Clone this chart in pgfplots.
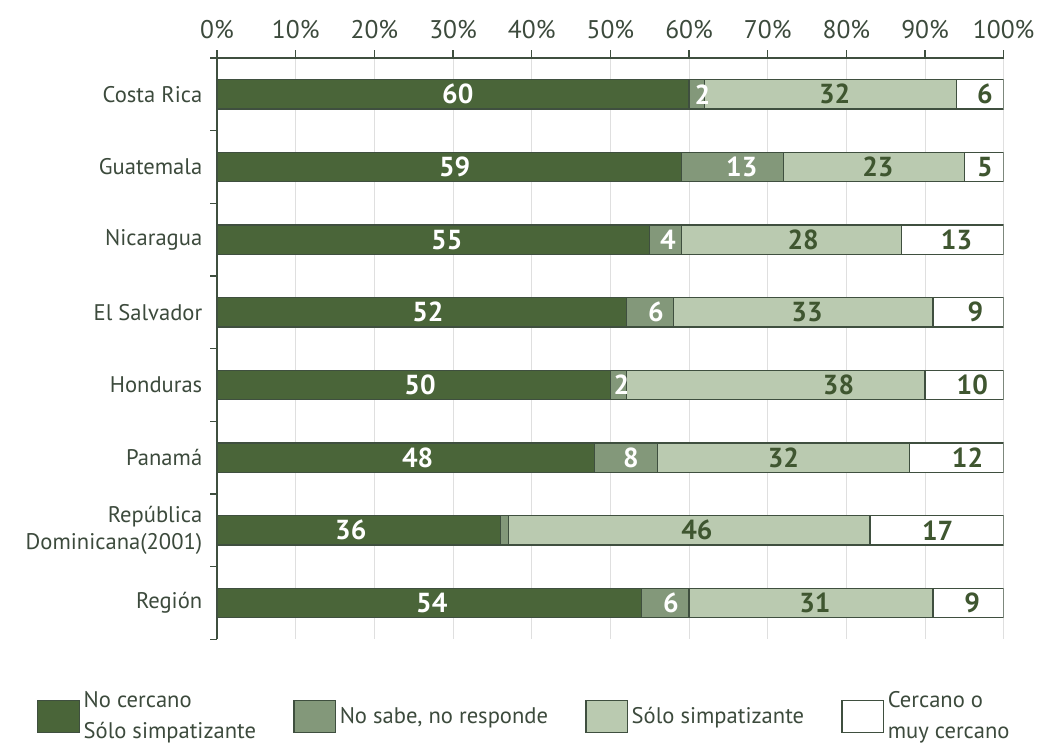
\documentclass[border=0pt]{standalone}
\usepackage{pgfplots}
\pgfplotsset{compat=1.18}
\usepackage{fontspec}
\setmainfont{PT Sans}
\definecolor{dk}{HTML}{4A6539}
\definecolor{md}{HTML}{83987A}
\definecolor{lt}{HTML}{BACAB0}
\definecolor{txt}{HTML}{3C4A3C}
\definecolor{ol}{HTML}{3F4F3F}
\begin{document}
\begin{tikzpicture}
\begin{axis}[name=ax, scale only axis, width=400.5pt, height=296pt,
  xbar stacked, bar width=15pt,
  xmin=0, xmax=100, ymin=-0.5, ymax=7.5, y dir=reverse,
  axis x line*=top, axis y line*=left,
  axis line style={ol, line width=0.8pt},
  xtick={0,10,...,100},
  xticklabel={\pgfmathprintnumber[assume math mode=true]{\tick}\%},
  xticklabel style={font=\fontsize{13}{15}\selectfont, text=txt, yshift=2pt},
  xmajorgrids, grid style={gray!25, line width=0.5pt},
  tick align=outside, major tick length=4pt, minor tick length=3.5pt,
  tick style={ol, line width=0.6pt},
  ytick={0,...,7},
  yticklabels={Costa Rica, Guatemala, Nicaragua, El Salvador, Honduras, Panamá, {República\\Dominicana(2001)}, Región},
  yticklabel style={align=right, font=\fontsize{11.5}{14}\selectfont, text=txt},
  every major y tick/.style={draw=none},
  minor ytick={-0.5,0.5,...,7.5},
  legend image code/.code={\draw[#1, draw=ol, line width=0.6pt] (0pt,-8pt) rectangle (21pt,8pt);},
  legend columns=4,
  legend style={at={(axis description cs:0.392,-0.075)}, anchor=north, draw=none, fill=none,
    font=\fontsize{11.5}{16}\selectfont, text=txt, cells={align=left},
    /tikz/every odd column/.append style={column sep=0pt},
    /tikz/every even column/.append style={column sep=17pt},
    /tikz/column 6/.append style={column sep=29pt}},
]
\addplot[fill=dk, draw=ol, line width=0.6pt] coordinates {(60,0) (59,1) (55,2) (52,3) (50,4) (48,5) (36,6) (54,7)};
\addplot[fill=md, draw=ol, line width=0.6pt] coordinates {(2,0) (13,1) (4,2) (6,3) (2,4) (8,5) (1,6) (6,7)};
\addplot[fill=lt, draw=ol, line width=0.6pt] coordinates {(32,0) (23,1) (28,2) (33,3) (38,4) (32,5) (46,6) (31,7)};
\addplot[fill=white, draw=ol, line width=0.6pt] coordinates {(6,0) (5,1) (13,2) (9,3) (10,4) (12,5) (17,6) (9,7)};
\legend{{No cercano\\Sólo simpatizante}, {No sabe, no responde}, {Sólo simpatizante}, {Cercano o\\muy cercano}}
\end{axis}
\begin{axis}[scale only axis, width=400.5pt, height=296pt,
  xmin=0, xmax=100, ymin=-0.5, ymax=7.5, y dir=reverse, hide axis, clip=false]
\addplot[draw=none, mark=none, nodes near coords, point meta=explicit symbolic,
  nodes near coords align={anchor=center},
  every node near coord/.append style={font=\bfseries\fontsize{14}{14}\selectfont, text=white}]
  table[meta=l] {
x y l
30.6 0 60
30.2 1 59
29.2 2 55
26.8 3 52
25.8 4 50
25.5 5 48
17.0 6 36
27.3 7 54
61.7 0 2
66.7 1 13
57.3 2 4
55.8 3 6
51.4 4 2
52.6 5 8
57.7 7 6
};
\addplot[draw=none, mark=none, nodes near coords, point meta=explicit symbolic,
  nodes near coords align={anchor=center},
  every node near coord/.append style={font=\bfseries\fontsize{14}{14}\selectfont, text=dk!85!black}]
  table[meta=l] {
x y l
78.5 0 32
84.0 1 23
74.5 2 28
75.0 3 33
79.0 4 38
72.0 5 32
61.0 6 46
76.0 7 31
97.6 0 6
97.6 1 5
94.0 2 13
96.4 3 9
96.0 4 10
95.4 5 12
91.6 6 17
96.0 7 9
};
\end{axis}
\path ([xshift=-110.5pt,yshift=-50pt]ax.south west) rectangle ([xshift=9.5pt,yshift=29.5pt]ax.north east);
\end{tikzpicture}
\end{document}
